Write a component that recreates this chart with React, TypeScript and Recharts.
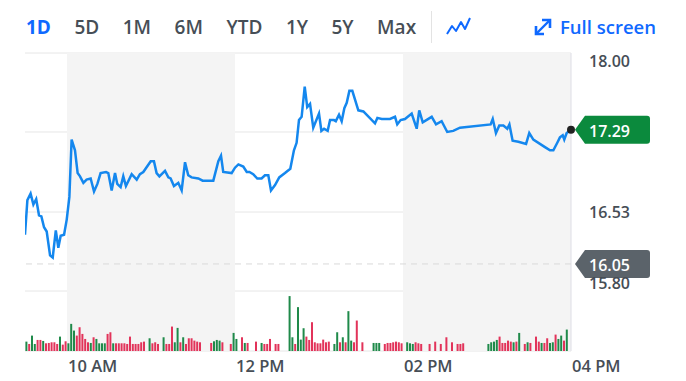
import { ComposedChart, Line, Bar, XAxis, YAxis, CartesianGrid, ReferenceArea, ReferenceLine, ReferenceDot } from 'recharts';

// minutes after 9:30 and the traded price at that point
const priceTimes = [
  0, 1.7, 4, 6, 8, 10, 11.7, 13.6, 15.5, 17.9, 19.8, 22, 23.8, 25.5, 27.9, 29.8, 31.7, 33.3, 35.7, 37.6,
  39.3, 41.7, 44, 46.9, 49.3, 51.7, 54, 57.9, 59.5, 61.9, 64.3, 65.9, 68.3, 70.2, 72.1, 76.2, 79.8, 82.1, 84.5, 89.8,
  92.1, 94, 96, 100, 102.4, 104, 106.4, 109.5, 111.9, 114.3, 116.6, 119, 123.8, 126.9, 134.5, 138.1, 140, 141.6, 147.6, 150,
  152.4, 155.9, 158.4, 160.3, 163, 165.9, 169, 171.4, 173.8, 175.7, 178.6, 181.6, 185.7, 189.5, 192.1, 194, 195.7, 197.6, 199.8, 201.6,
  203.6, 205.9, 210, 211.7, 213.6, 216.2, 217.9, 220.7, 222, 224.3, 226.2, 228.1, 229.8, 231.7, 233.8, 238.1, 241.7, 250, 251.7, 254.8,
  260.7, 264.3, 265.9, 268.3, 271.4, 276.2, 279.8, 281.6, 284.1, 290.5, 293.6, 297.6, 301.6, 305.9, 310.7, 332.6, 334.1, 336.4, 338.8, 341.7,
  344.5, 346, 348.3, 352.4, 357.9, 360.2, 363.1, 371.4, 375, 377.4, 380.2, 382.1, 384.1, 385.2, 386.9, 390,
];
const priceValues = [
  16.32, 16.64, 16.7, 16.6, 16.65, 16.5, 16.49, 16.39, 16.35, 16.13, 16.11, 16.36, 16.2, 16.31, 16.32, 16.46, 16.67, 17.2, 17.1, 16.89,
  16.86, 16.8, 16.83, 16.84, 16.72, 16.79, 16.89, 16.9, 16.89, 16.73, 16.89, 16.79, 16.76, 16.86, 16.77, 16.88, 16.83, 16.88, 16.9, 17.0,
  17.0, 16.89, 16.86, 16.91, 16.85, 16.84, 16.77, 16.8, 16.73, 16.99, 16.87, 16.85, 16.84, 16.82, 16.82, 17.0, 17.05, 16.9, 16.89, 16.94,
  16.97, 16.95, 16.9, 16.9, 16.88, 16.84, 16.84, 16.87, 16.87, 16.73, 16.78, 16.85, 16.89, 16.93, 17.1, 17.17, 17.38, 17.41, 17.69, 17.5,
  17.53, 17.31, 17.44, 17.28, 17.3, 17.28, 17.38, 17.38, 17.37, 17.43, 17.37, 17.49, 17.54, 17.65, 17.65, 17.47, 17.46, 17.35, 17.4, 17.39,
  17.39, 17.41, 17.34, 17.38, 17.39, 17.44, 17.3, 17.47, 17.36, 17.41, 17.34, 17.37, 17.27, 17.28, 17.31, 17.34, 17.39, 17.26, 17.33, 17.33,
  17.3, 17.34, 17.19, 17.18, 17.16, 17.26, 17.2, 17.13, 17.1, 17.1, 17.17, 17.22, 17.24, 17.2, 17.26, 17.29,
];

// 2-minute volume bars (thousands), 1 = up bar, 0 = down bar
const volumes = [
  28, 21, 46, 21, 33, 33, 30, 23, 24, 26, 26, 21, 43, 19, 29, 23, 81, 61, 46, 71,
  51, 36, 26, 24, 41, 36, 23, 23, 23, 51, 56, 23, 23, 23, 23, 23, 21, 43, 21, 21,
  21, 26, 28, 0, 38, 23, 26, 21, 0, 41, 21, 21, 73, 26, 69, 26, 41, 21, 38, 38,
  31, 28, 26, 0, 0, 0, 24, 29, 33, 31, 26, 0, 0, 21, 54, 36, 0, 41, 24, 24,
  0, 0, 28, 0, 24, 21, 21, 36, 0, 21, 21, 0, 0, 0, 164, 41, 21, 131, 34, 68,
  43, 33, 86, 26, 23, 23, 34, 26, 28, 0, 21, 56, 26, 41, 26, 119, 31, 26, 91, 0,
  26, 0, 0, 0, 24, 24, 24, 0, 21, 24, 24, 26, 28, 26, 23, 0, 26, 23, 21, 26,
  23, 21, 0, 0, 21, 0, 28, 0, 21, 0, 41, 0, 26, 0, 21, 21, 23, 0, 0, 0,
  0, 0, 0, 0, 0, 21, 26, 28, 33, 43, 24, 24, 31, 28, 26, 28, 54, 0, 21, 26,
  24, 0, 43, 28, 24, 24, 38, 24, 26, 49, 36, 46, 31, 64, 0,
];
const volumeUp =
  '1011001000' + '0010011100' + '0001011110' + '0100000000' + '0000100001' +
  '0001101000' + '0000000111' + '0000110010' + '0000100000' + '0000110111' +
  '0000000000' + '1101011000' + '0000111000' + '0000001110' + '0000000000' +
  '0000000000' + '0000011110' + '0000101001' + '0000100110' + '11010';

const ranges = ['1D', '5D', '1M', '6M', 'YTD', '1Y', '5Y', 'Max'];
const timeTicks = [30, 150, 270, 390];
const timeLabels = ['10 AM', '12 PM', '02 PM', '04 PM'];
const priceTicks = [15.8, 16.53, 17.27, 18];
const shadedHours = [[30, 150], [270, 390]];
const prevClose = 16.05;
const lastPrice = priceValues[priceValues.length - 1];

const rows: any[] = [
  ...priceTimes.map((t, i) => ({ t, price: priceValues[i] })),
  ...volumes.map((v, i) => ({ t: 1 + 2 * i, vol: v > 0 ? v : null, up: volumeUp[i] === '1' })),
].sort((a, b) => a.t - b.t);

const BLUE = '#0f69ff';
const GREY_TEXT = '#464e56';
const FONT = '"Open Sans", sans-serif';

const PriceTick = ({ x, y, payload }: any) => {
  const v = payload.value;
  // the last-price badge sits over this label
  if (Math.abs(v - lastPrice) < 0.1) return null;
  const dy = v >= 17.99 ? 8 : v <= 15.81 ? -8 : 0;
  return (
    <text x={x + 10} y={y + dy} dominantBaseline="central" fill={GREY_TEXT} fontSize={16} fontWeight={600} fontFamily={FONT}>
      {v.toFixed(2)}
    </text>
  );
};

const TimeTick = ({ x, y, payload }: any) => (
  <text x={x + 1} y={y + 6} dominantBaseline="central" fill={GREY_TEXT} fontSize={16.5} fontWeight={600} fontFamily={FONT}>
    {timeLabels[timeTicks.indexOf(payload.value)]}
  </text>
);

const VolBar = (p: any) => {
  if (!p.height || p.payload.vol == null) return null;
  return <rect x={p.x + p.width / 2 - 1} y={p.y} width={2} height={p.height} fill={p.payload.up ? '#1f8a4a' : '#e2335a'} />;
};

const badge = (cx: number, cy: number, color: string, text: string) => (
  <g>
    <path d={`M${cx + 4},${cy} L${cx + 14},${cy - 14} L${cx + 76},${cy - 14} Q${cx + 79},${cy - 14} ${cx + 79},${cy - 11} L${cx + 79},${cy + 11} Q${cx + 79},${cy + 14} ${cx + 76},${cy + 14} L${cx + 14},${cy + 14} Z`} fill={color} />
    <text x={cx + 18} y={cy + 1} dominantBaseline="central" fill="#fff" fontSize={16} fontWeight={600} fontFamily={FONT}>
      {text}
    </text>
  </g>
);

export default function App() {
  return (
    <div style={{ position: 'absolute', left: 0, top: 0, width: 686, height: 381, background: '#fff', fontFamily: FONT }}>
      <div style={{ position: 'absolute', left: 26, top: 13, display: 'flex', gap: 23.5, fontSize: 19, lineHeight: '28px' }}>
        {ranges.map((r, i) => (
          <span key={r} style={{ color: i === 0 ? BLUE : GREY_TEXT, fontWeight: i === 0 ? 700 : 600 }}>{r}</span>
        ))}
      </div>
      <div style={{ position: 'absolute', left: 431, top: 11, width: 1, height: 32, background: '#e3e3e3' }} />
      <svg style={{ position: 'absolute', left: 445, top: 15 }} width={28} height={22}>
        <polyline points="2,19 7,11 11,16 16,7 20,14 25,3" fill="none" stroke={BLUE} strokeWidth={2} strokeLinejoin="round" />
      </svg>
      <svg style={{ position: 'absolute', left: 533, top: 17 }} width={20} height={20}>
        <line x1={3} y1={17} x2={17} y2={3} stroke={BLUE} strokeWidth={2.4} />
        <polyline points="3,9 3,17 11,17" fill="none" stroke={BLUE} strokeWidth={2.6} />
        <polyline points="9,3 17,3 17,11" fill="none" stroke={BLUE} strokeWidth={2.6} />
      </svg>
      <span style={{ position: 'absolute', left: 560, top: 13, lineHeight: '28px', fontSize: 18.5, fontWeight: 600, color: BLUE }}>
        Full screen
      </span>

      <div style={{ position: 'absolute', left: 0, top: 0 }}>
        <ComposedChart width={686} height={381} data={rows} margin={{ top: 53, right: 0, left: 25, bottom: 0 }}>
          {shadedHours.map(([a, b]) => (
            <ReferenceArea key={a} x1={a} x2={b} yAxisId="price" fill="#f4f4f4" fillOpacity={1} stroke="none" />
          ))}
          <CartesianGrid vertical={false} yAxisId="price" stroke="#e6e6e6" />
          <XAxis
            dataKey="t"
            type="number"
            domain={[0, 390]}
            ticks={timeTicks}
            allowDataOverflow
            axisLine={false}
            tickLine={false}
            height={30}
            tick={<TimeTick />}
          />
          <YAxis
            yAxisId="price"
            orientation="right"
            domain={[15.2454, 18]}
            ticks={priceTicks}
            allowDataOverflow
            axisLine={false}
            tickLine={false}
            width={115}
            tick={<PriceTick />}
          />
          <YAxis yAxisId="vol" hide domain={[0, 890]} />
          <ReferenceLine x={390} yAxisId="price" stroke="#dedee6" />
          <ReferenceLine y={prevClose} yAxisId="price" stroke="#d9d9d9" strokeDasharray="6 5" />
          <Bar dataKey="vol" yAxisId="vol" barSize={2} shape={VolBar} isAnimationActive={false} />
          <Line
            dataKey="price"
            yAxisId="price"
            type="linear"
            stroke="#1487ee"
            strokeWidth={2.5}
            dot={false}
            connectNulls
            isAnimationActive={false}
          />
          <ReferenceDot
            x={390}
            y={prevClose}
            yAxisId="price"
            ifOverflow="visible"
            shape={(p: any) => badge(p.cx, p.cy, '#5b636a', prevClose.toFixed(2))}
          />
          <ReferenceDot
            x={390}
            y={lastPrice}
            yAxisId="price"
            ifOverflow="visible"
            shape={(p: any) => (
              <g>
                {badge(p.cx, p.cy, '#0b8a3d', lastPrice.toFixed(2))}
                <circle cx={p.cx} cy={p.cy} r={4} fill="#222" />
              </g>
            )}
          />
        </ComposedChart>
      </div>
    </div>
  );
}
